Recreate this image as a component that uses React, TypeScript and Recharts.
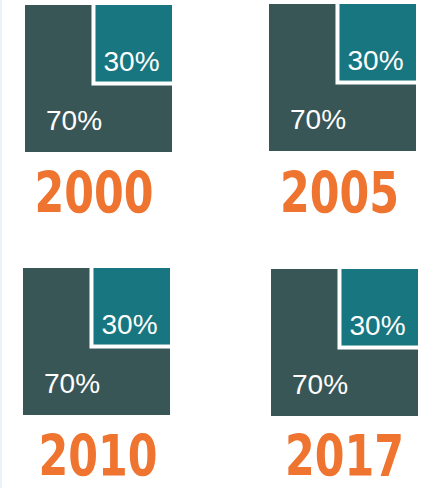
import React from 'react';
import { ComposedChart, XAxis, YAxis, ReferenceArea } from 'recharts';

// ---- data ----
const years: string[] = ['2000', '2005', '2010', '2017'];
const otherShare: number[] = [70, 70, 70, 70];
const highlightShare: number[] = [30, 30, 30, 30];

// ---- styles / layout ----
const DARK = '#395657';
const TEAL = '#17767F';
const ORANGE = '#EE7430';
const SIZE = 147;
const GAP = 4;

const layout = [
  { left: 25, top: 5, yearX: 94, yearY: 213 },
  { left: 269, top: 4, yearX: 339.5, yearY: 213 },
  { left: 23, top: 268, yearX: 98, yearY: 476 },
  { left: 271, top: 269, yearX: 344.5, yearY: 476 },
];

const labelStyle: React.CSSProperties = {
  fontFamily: '"Liberation Sans", Arial, sans-serif',
  fontSize: 28,
};

function Panel({ idx }: { idx: number }) {
  const other = otherShare[idx];
  const hi = highlightShare[idx];
  const side = Math.sqrt(hi / (hi + other));
  const pos = layout[idx];

  const darkShape = (p: any) => (
    <g>
      <rect x={p.x} y={p.y} width={p.width} height={p.height} fill={DARK} />
      <text x={p.x + 21} y={p.y + p.height - 22} fill="#fff" style={labelStyle}>
        {`${other}%`}
      </text>
    </g>
  );

  const tealShape = (p: any) => (
    <g>
      <rect x={p.x} y={p.y} width={p.width} height={p.height} fill="#fff" />
      <rect
        x={p.x + GAP}
        y={p.y}
        width={p.width - GAP}
        height={p.height - GAP}
        fill={TEAL}
      />
      <text x={p.x + 12} y={p.y + p.height - 15} fill="#fff" style={labelStyle}>
        {`${hi}%`}
      </text>
    </g>
  );

  return (
    <div style={{ position: 'absolute', left: pos.left, top: pos.top, width: SIZE, height: SIZE }}>
      <ComposedChart width={SIZE} height={SIZE} margin={{ top: 0, right: 0, bottom: 0, left: 0 }}>
        <XAxis type="number" dataKey="x" domain={[0, 1]} hide allowDataOverflow />
        <YAxis type="number" domain={[0, 1]} hide allowDataOverflow />
        <ReferenceArea x1={0} x2={1} y1={0} y2={1} shape={darkShape} ifOverflow="visible" />
        <ReferenceArea x1={1 - side} x2={1} y1={1 - side} y2={1} shape={tealShape} ifOverflow="visible" />
      </ComposedChart>
    </div>
  );
}

export default function App() {
  return (
    <div style={{ position: 'absolute', left: 0, top: 0, width: 436, height: 488, background: '#fff', overflow: 'hidden' }}>
      <div style={{ position: 'absolute', left: 0, top: 0, width: 2, height: 488, background: '#EDF2F8' }} />
      {years.map((y, i) => (
        <Panel key={y} idx={i} />
      ))}
      <svg width={436} height={488} style={{ position: 'absolute', left: 0, top: 0 }}>
        {years.map((y, i) => (
          <text
            key={y}
            x={layout[i].yearX}
            y={layout[i].yearY}
            textAnchor="middle"
            textLength={119}
            lengthAdjust="spacingAndGlyphs"
            fill={ORANGE}
            style={{
              fontFamily: '"DejaVu Sans Condensed", "DejaVu Sans", sans-serif',
              fontWeight: 'bold',
              fontSize: 57,
            }}
          >
            {y}
          </text>
        ))}
      </svg>
    </div>
  );
}
